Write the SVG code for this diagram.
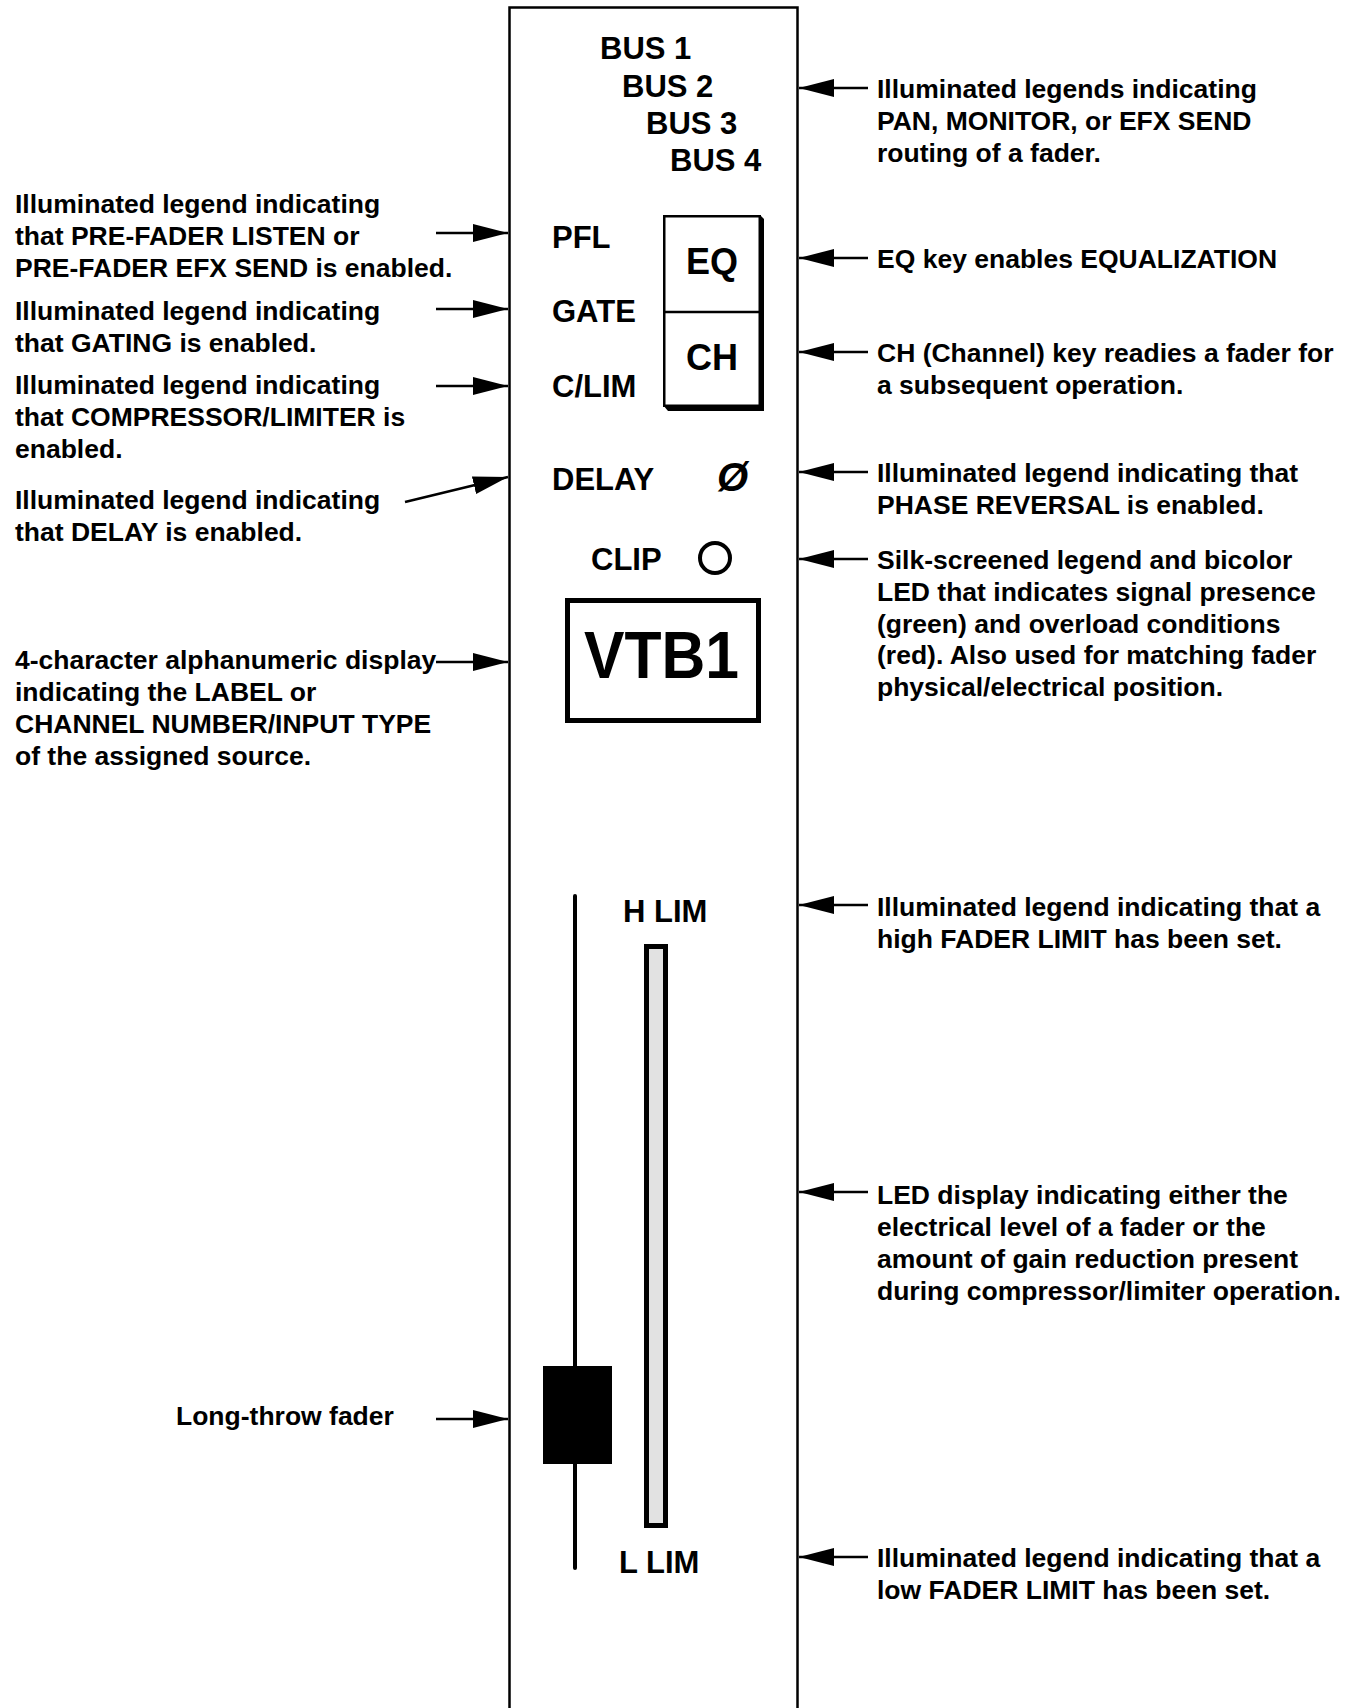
<svg xmlns="http://www.w3.org/2000/svg" width="1358" height="1708" viewBox="0 0 1358 1708">
  <style>
    text { font-family: "Liberation Sans", Arial, Helvetica, sans-serif; font-weight: bold; fill: #000; }
    .note { font-size: 26.5px; }
    .lbl { font-size: 31px; }
    .key { font-size: 36px; }
    .conn { stroke: #000; stroke-width: 2.5; fill: none; marker-end: url(#ah); }
  </style>
  <defs>
    <marker id="ah" markerUnits="userSpaceOnUse" markerWidth="35" markerHeight="18" viewBox="0 0 35 18" refX="35" refY="9" orient="auto">
      <path d="M0,0 L35,9 L0,18 Z" fill="#000"/>
    </marker>
  </defs>
  <rect width="1358" height="1708" fill="#fff"/>

  <!-- channel strip outline (open at the bottom) -->
  <g id="strip">
    <path d="M509.5,1712 V7.5 H797.5 V1712" fill="none" stroke="#000" stroke-width="2.5"/>
  </g>

  <!-- bus routing legends -->
  <g id="bus-legends">
    <text class="lbl" x="600" y="59">BUS 1</text>
    <text class="lbl" x="622" y="97">BUS 2</text>
    <text class="lbl" x="646" y="134">BUS 3</text>
    <text class="lbl" x="670" y="171">BUS 4</text>
  </g>

  <g id="pfl"><text class="lbl" x="552" y="248">PFL</text></g>
  <g id="gate"><text class="lbl" x="552" y="322">GATE</text></g>
  <g id="clim"><text class="lbl" x="552" y="397">C/LIM</text></g>

  <!-- EQ / CH keys with bevel shadow -->
  <g id="keys">
    <polygon points="663,405 668,411 764,411 764,219 760,215" fill="#000"/>
    <rect x="664.25" y="216.25" width="95.5" height="189.5" fill="#fff" stroke="#000" stroke-width="2.5"/>
    <line x1="664" y1="312" x2="760" y2="312" stroke="#000" stroke-width="2.5"/>
    <text class="key" x="712" y="274" text-anchor="middle">EQ</text>
    <text class="key" x="712" y="370" text-anchor="middle">CH</text>
  </g>

  <g id="delay"><text class="lbl" x="552" y="490">DELAY</text></g>
  <g id="phase"><text x="717" y="491" font-size="40" font-style="italic">Ø</text></g>

  <g id="clip">
    <text class="lbl" x="591" y="570">CLIP</text>
    <circle cx="715" cy="558" r="15" fill="none" stroke="#000" stroke-width="4"/>
  </g>

  <!-- 4-character display -->
  <g id="display">
    <rect x="567.5" y="600.5" width="191" height="120" fill="none" stroke="#000" stroke-width="5"/>
    <text x="584" y="678" font-size="67" textLength="155" lengthAdjust="spacingAndGlyphs">VTB1</text>
  </g>

  <!-- fader track and knob -->
  <g id="fader">
    <line x1="575" y1="896" x2="575" y2="1568" stroke="#000" stroke-width="4" stroke-linecap="round"/>
    <rect x="543" y="1366" width="69" height="98" fill="#000"/>
  </g>

  <!-- LED level bar -->
  <g id="led-bar">
    <rect x="646.5" y="946.5" width="19" height="579" fill="#e2e2e2" stroke="#000" stroke-width="5"/>
  </g>

  <g id="hlim"><text class="lbl" x="623" y="922">H LIM</text></g>
  <g id="llim"><text class="lbl" x="619" y="1573">L LIM</text></g>

  <!-- callout arrows -->
  <g id="connectors">
    <line class="conn" x1="868" y1="88" x2="799" y2="88"/>
    <line class="conn" x1="868" y1="258" x2="799" y2="258"/>
    <line class="conn" x1="868" y1="352" x2="799" y2="352"/>
    <line class="conn" x1="868" y1="472" x2="799" y2="472"/>
    <line class="conn" x1="868" y1="559" x2="799" y2="559"/>
    <line class="conn" x1="868" y1="905" x2="799" y2="905"/>
    <line class="conn" x1="868" y1="1192" x2="799" y2="1192"/>
    <line class="conn" x1="868" y1="1557" x2="799" y2="1557"/>

    <line class="conn" x1="436" y1="233" x2="508" y2="233"/>
    <line class="conn" x1="436" y1="309" x2="508" y2="309"/>
    <line class="conn" x1="436" y1="386" x2="508" y2="386"/>
    <line class="conn" x1="405" y1="502" x2="508" y2="477"/>
    <line class="conn" x1="436" y1="662" x2="508" y2="662"/>
    <line class="conn" x1="436" y1="1419" x2="508" y2="1419"/>
  </g>

  <!-- right-hand descriptions -->
  <g id="note-bus">
    <text class="note" x="877" y="98">Illuminated legends indicating</text>
    <text class="note" x="877" y="130">PAN, MONITOR, or EFX SEND</text>
    <text class="note" x="877" y="162">routing of a fader.</text>
  </g>
  <g id="note-eq">
    <text class="note" x="877" y="268">EQ key enables EQUALIZATION</text>
  </g>
  <g id="note-ch">
    <text class="note" x="877" y="362">CH (Channel) key readies a fader for</text>
    <text class="note" x="877" y="394">a subsequent operation.</text>
  </g>
  <g id="note-phase">
    <text class="note" x="877" y="482">Illuminated legend indicating that</text>
    <text class="note" x="877" y="514">PHASE REVERSAL is enabled.</text>
  </g>
  <g id="note-clip">
    <text class="note" x="877" y="569">Silk-screened legend and bicolor</text>
    <text class="note" x="877" y="601">LED that indicates signal presence</text>
    <text class="note" x="877" y="633">(green) and overload conditions</text>
    <text class="note" x="877" y="664">(red). Also used for matching fader</text>
    <text class="note" x="877" y="696">physical/electrical position.</text>
  </g>
  <g id="note-hlim">
    <text class="note" x="877" y="916">Illuminated legend indicating that a</text>
    <text class="note" x="877" y="948">high FADER LIMIT has been set.</text>
  </g>
  <g id="note-led">
    <text class="note" x="877" y="1204">LED display indicating either the</text>
    <text class="note" x="877" y="1236">electrical level of a fader or the</text>
    <text class="note" x="877" y="1268">amount of gain reduction present</text>
    <text class="note" x="877" y="1300">during compressor/limiter operation.</text>
  </g>
  <g id="note-llim">
    <text class="note" x="877" y="1567">Illuminated legend indicating that a</text>
    <text class="note" x="877" y="1599">low FADER LIMIT has been set.</text>
  </g>

  <!-- left-hand descriptions -->
  <g id="note-pfl">
    <text class="note" x="15" y="213">Illuminated legend indicating</text>
    <text class="note" x="15" y="245">that PRE-FADER LISTEN or</text>
    <text class="note" x="15" y="277">PRE-FADER EFX SEND is enabled.</text>
  </g>
  <g id="note-gate">
    <text class="note" x="15" y="320">Illuminated legend indicating</text>
    <text class="note" x="15" y="352">that GATING is enabled.</text>
  </g>
  <g id="note-clim">
    <text class="note" x="15" y="394">Illuminated legend indicating</text>
    <text class="note" x="15" y="426">that COMPRESSOR/LIMITER is</text>
    <text class="note" x="15" y="458">enabled.</text>
  </g>
  <g id="note-delay">
    <text class="note" x="15" y="509">Illuminated legend indicating</text>
    <text class="note" x="15" y="541">that DELAY is enabled.</text>
  </g>
  <g id="note-display">
    <text class="note" x="15" y="669">4-character alphanumeric display</text>
    <text class="note" x="15" y="701">indicating the LABEL or</text>
    <text class="note" x="15" y="733">CHANNEL NUMBER/INPUT TYPE</text>
    <text class="note" x="15" y="765">of the assigned source.</text>
  </g>
  <g id="note-fader">
    <text class="note" x="176" y="1425">Long-throw fader</text>
  </g>
</svg>
